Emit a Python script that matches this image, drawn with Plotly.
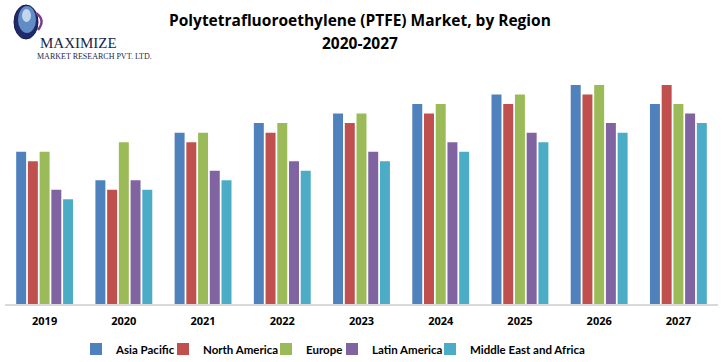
import plotly.graph_objects as go

years = ["2019", "2020", "2021", "2022", "2023", "2024", "2025", "2026", "2027"]
asia_pacific = [16, 13, 18, 19, 20, 21, 22, 23, 21]
north_america = [15, 12, 17, 18, 19, 20, 21, 22, 23]
europe = [16, 17, 18, 19, 20, 21, 22, 23, 21]
latin_america = [12, 13, 14, 15, 16, 17, 18, 19, 20]
mea = [11, 12, 13, 14, 15, 16, 17, 18, 19]

series = [
    ("Asia Pacific", asia_pacific, "#4F81BD"),
    ("North America", north_america, "#C0504D"),
    ("Europe", europe, "#9BBB59"),
    ("Latin America", latin_america, "#8064A2"),
    ("Middle East and Africa", mea, "#4BACC6"),
]
legend_text_x = [116, 203, 306, 372, 470]

W, H = 728, 362
L, R, T, B = 5, 10, 66, 58
PW, PH = W - L - R, H - T - B


def px(x):
    return (x - L) / PW


def py(y):
    return (H - B - y) / PH


fig = go.Figure()
legend_layouts = {}
for i, (name, vals, col) in enumerate(series):
    lg = "legend" if i == 0 else f"legend{i + 1}"
    fig.add_trace(go.Bar(name=name, x=years, y=vals, marker_color=col,
                         marker_line_width=0, legend=lg))
    legend_layouts[lg] = dict(
        orientation="h", xref="container", x=(legend_text_x[i] - 40) / W, xanchor="left",
        yref="container", y=1 - 349 / H, yanchor="middle",
        bgcolor="rgba(0,0,0,0)",
        font=dict(size=11.5, family="Lato", color="black", weight="bold"),
        itemwidth=30)

fig.update_layout(
    width=W, height=H,
    margin=dict(l=L, r=R, t=T, b=B),
    paper_bgcolor="white", plot_bgcolor="white",
    barmode="group", bargap=0.26, bargroupgap=0.15,
    font=dict(family="Open Sans", color="black"),
    xaxis=dict(showline=True, linecolor="#D9D9D9", linewidth=1.5, ticks="",
               tickfont=dict(size=11, family="Open Sans", color="black", weight="bold"),
               ticklabelstandoff=6, showgrid=False),
    yaxis=dict(range=[0, 25], visible=False, showgrid=False),
    showlegend=True,
    **legend_layouts,
)

# title
fig.add_annotation(text="<b>Polytetrafluoroethylene (PTFE) Market, by Region</b>",
                   xref="paper", yref="paper", x=px(360), y=py(20),
                   xanchor="center", yanchor="middle", showarrow=False,
                   font=dict(size=15.5, family="Open Sans", color="black"))
fig.add_annotation(text="<b>2020-2027</b>",
                   xref="paper", yref="paper", x=px(360), y=py(43),
                   xanchor="center", yanchor="middle", showarrow=False,
                   font=dict(size=15.5, family="Open Sans", color="black"))

# logo: globe
fig.add_shape(type="circle", xref="paper", yref="paper", layer="above",
              x0=px(14), x1=px(38), y0=py(39), y1=py(5),
              fillcolor="#1F2A6B", line=dict(color="#151C4F", width=1))
fig.add_shape(type="circle", xref="paper", yref="paper", layer="above",
              x0=px(18), x1=px(36), y0=py(33), y1=py(6),
              fillcolor="#6F9ED6", line=dict(width=0), opacity=0.85)
fig.add_shape(type="circle", xref="paper", yref="paper", layer="above",
              x0=px(22), x1=px(31), y0=py(22), y1=py(9),
              fillcolor="#DCE8F7", line=dict(width=0), opacity=0.8)
fig.add_shape(type="path", xref="paper", yref="paper", layer="above",
              path=f"M {px(36)},{py(13)} Q {px(46)},{py(20)} {px(38)},{py(30)}",
              line=dict(color="#7A3C8C", width=2.5))
fig.add_annotation(text="MAXIMIZE", xref="paper", yref="paper",
                   x=px(38), y=py(43), xanchor="left", yanchor="middle",
                   showarrow=False,
                   font=dict(family="Liberation Serif", size=15, color="#1B1F4A"))
fig.add_annotation(text="MARKET RESEARCH PVT. LTD.", xref="paper", yref="paper",
                   x=px(35), y=py(57), xanchor="left", yanchor="middle",
                   showarrow=False,
                   font=dict(family="Liberation Serif", size=8, color="#1B1F4A"))

fig.write_html("out.html", config={"displayModeBar": False},
               post_script="document.body.style.margin='0';")
